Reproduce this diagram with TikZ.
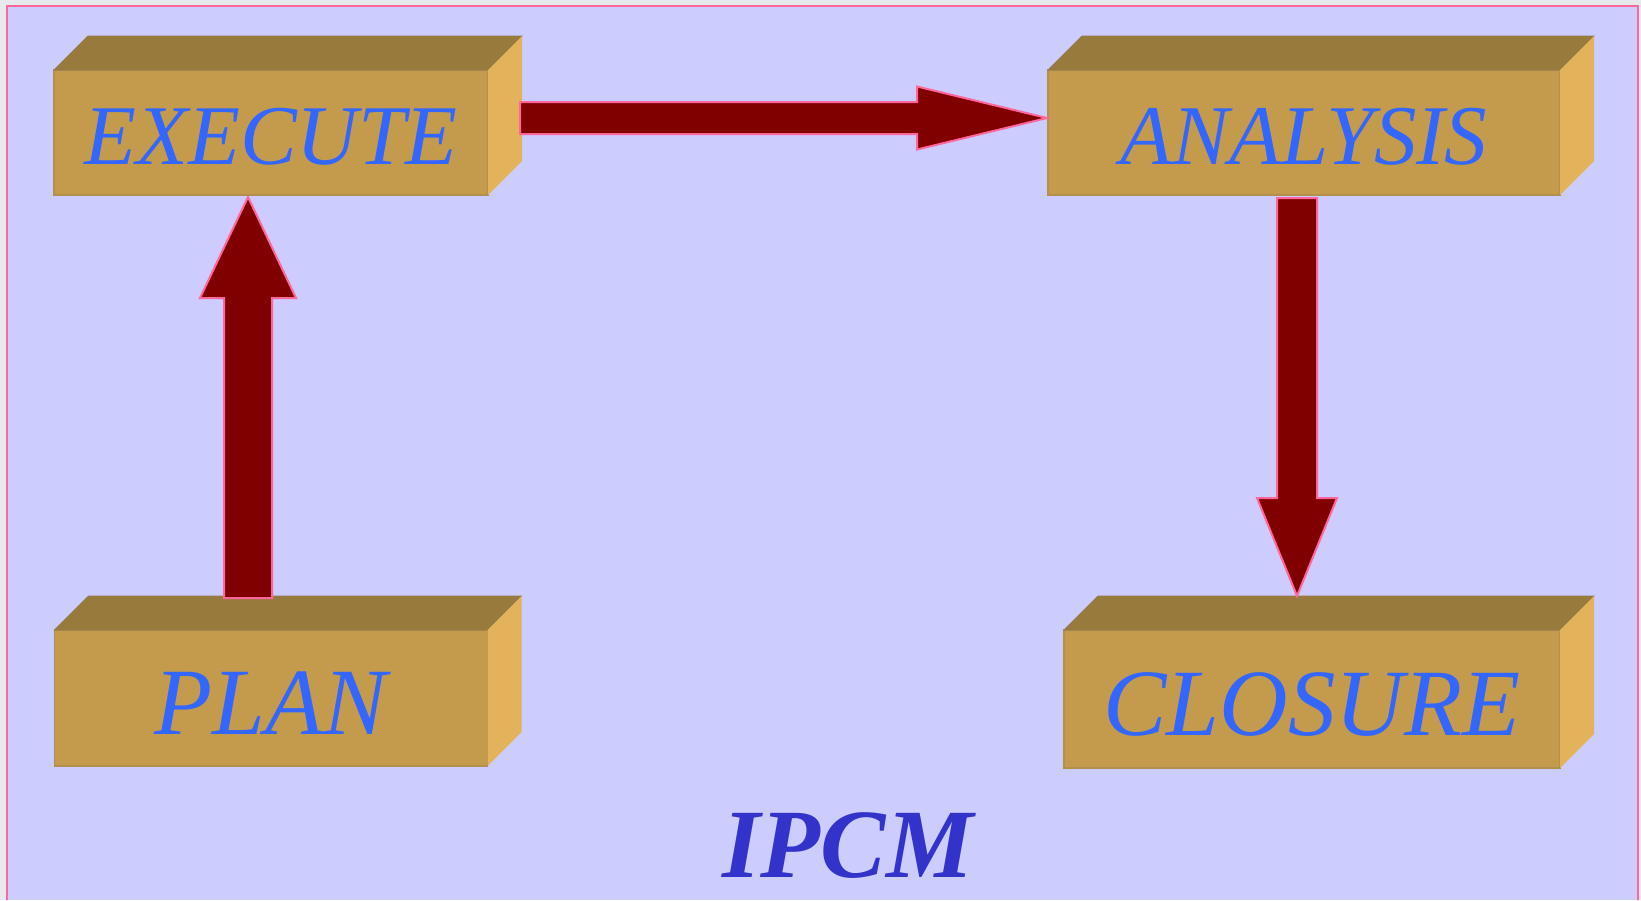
\documentclass[tikz,border=0pt]{standalone}
\usepackage{fontspec}
\setmainfont{Liberation Serif}
\usetikzlibrary{calc}
\definecolor{grigio}{HTML}{E7EAEC}
\definecolor{sfondo}{HTML}{CCCCFF}
\definecolor{rosa}{HTML}{FF6699}
\definecolor{sopra}{HTML}{997A3D}
\definecolor{frontale}{HTML}{C49B4D}
\definecolor{lato}{HTML}{E2B35A}
\definecolor{bordino}{HTML}{B38F4C}
\definecolor{testo}{HTML}{3366FF}
\definecolor{titolo}{HTML}{3333CC}
\definecolor{rossoscuro}{HTML}{800000}
\tikzset{
  faccia/.style={rectangle, fill=frontale, draw=bordino, line width=0.6pt,
    inner sep=0pt, outer sep=0pt, text=testo, text depth=0pt},
  piccolo/.style={font=\fontsize{42.5}{50}\selectfont\itshape, text height=31.6pt},
  grande/.style={font=\fontsize{47.5}{56}\selectfont\itshape, text height=36pt},
  freccia/.style={fill=rossoscuro, draw=rosa, line width=1pt, line join=miter},
}
% facce superiore e laterale del blocco #1
\newcommand{\cubo}[1]{%
  \filldraw[fill=sopra, draw=sopra!80!gray, line width=0.4pt] (#1.north west) -- ++(34,-34)
    -- ($(#1.north east)+(34,-34)$) -- (#1.north east) -- cycle;
  \fill[lato] (#1.north east) -- ++(34,-34) -- ($(#1.south east)+(34,-34)$)
    -- (#1.south east) -- cycle;}
% freccia piena da #1 a #2: mezzo gambo #3, mezza punta #4, lunghezza punta #5
\newcommand{\freccione}[5]{%
  \coordinate (base) at ($(#2)!#5!(#1)$);
  \draw[freccia] ($(#1)!#3!90:(#2)$) -- ($(base)!#3!90:(#2)$) -- ($(base)!#4!90:(#2)$)
    -- (#2) -- ($(base)!#4!-90:(#2)$) -- ($(base)!#3!-90:(#2)$)
    -- ($(#1)!#3!-90:(#2)$) -- cycle;}
\begin{document}
\begin{tikzpicture}[x=0.5pt, y=-0.5pt]
        \useasboundingbox (0,0) rectangle (1641,900);
        % cornice
        \fill[grigio] (0,0) rectangle (1641,900);
        \fill[sfondo] (7,6) rectangle (1638,900);
        \draw[rosa, line width=1pt] (7,900) -- (7,6) -- (1638,6) -- (1638,900);
        % blocchi in alto
        \node[faccia, piccolo, minimum width=217pt, minimum height=62.5pt] (execute) at (271,132.5) {EXECUTE};
        \node[faccia, piccolo, minimum width=256pt, minimum height=62.5pt] (analysis) at (1304,132.5) {ANALYSIS};
        % blocchi in basso
        \node[faccia, grande, minimum width=216.5pt, minimum height=68pt] (plan) at (271,698) {PLAN};
        \node[faccia, grande, minimum width=248pt, minimum height=69pt] (closure) at (1312,699) {CLOSURE};
        \cubo{execute}
        \cubo{analysis}
        \cubo{plan}
        \cubo{closure}
        % frecce
        \coordinate (exe-out) at ($(execute.north east)+(32,48)$);
        \coordinate (ana-in) at ($(analysis.north west)+(-1,48)$);
        \coordinate (plan-out) at ($(plan.north)+(-23,-32)$);
        \coordinate (exe-in) at ($(execute.south)+(-23,2)$);
        \coordinate (ana-out) at ($(analysis.south)+(-7,3)$);
        \coordinate (clo-in) at ($(closure.north)+(-15,-34)$);
        \freccione{exe-out}{ana-in}{8pt}{15.75pt}{65pt}
        \freccione{plan-out}{exe-in}{12pt}{24pt}{50.5pt}
        \freccione{ana-out}{clo-in}{10pt}{20pt}{49pt}
        % titolo
        \node[text=titolo, font=\fontsize{49}{58}\selectfont\bfseries\itshape, anchor=base] (ipcm) at (848,877) {IPCM};
    \end{tikzpicture}
\end{document}
